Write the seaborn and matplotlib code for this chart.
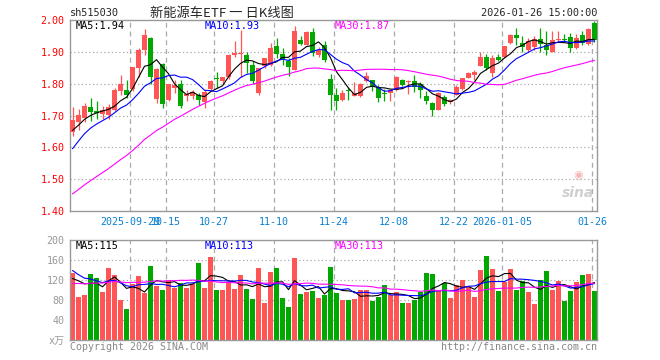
import numpy as np
import pandas as pd
import matplotlib
matplotlib.use("Agg")
import matplotlib.pyplot as plt
import seaborn as sns

# daily K line of sh515030, 2025-09-15 .. 2026-01-26 (88 sessions)
open_ = [1.649, 1.681, 1.693, 1.727, 1.715, 1.704, 1.702, 1.717, 1.777, 1.779,
         1.784, 1.849, 1.907, 1.945, 1.752, 1.862, 1.749, 1.787, 1.800, 1.762,
         1.760, 1.765, 1.742, 1.784, 1.818, 1.807, 1.820, 1.891, 1.893, 1.889,
         1.859, 1.770, 1.854, 1.860, 1.917, 1.893, 1.870, 1.844, 1.938, 1.923,
         1.963, 1.890, 1.920, 1.815, 1.765, 1.749, 1.779, 1.762, 1.760, 1.807,
         1.812, 1.788, 1.771, 1.770, 1.780, 1.812, 1.805, 1.807, 1.798, 1.762,
         1.738, 1.717, 1.759, 1.742, 1.765, 1.783, 1.819, 1.826, 1.854, 1.885,
         1.833, 1.885, 1.885, 1.928, 1.952, 1.927, 1.907, 1.915, 1.940, 1.923,
         1.900, 1.938, 1.940, 1.948, 1.912, 1.952, 1.925, 1.990]
high = [1.728, 1.720, 1.738, 1.754, 1.745, 1.730, 1.736, 1.785, 1.826, 1.810,
        1.851, 1.912, 1.972, 1.948, 1.850, 1.865, 1.800, 1.810, 1.812, 1.780,
        1.780, 1.772, 1.780, 1.810, 1.836, 1.822, 1.892, 1.933, 1.970, 1.900,
        1.870, 1.850, 1.882, 1.928, 1.943, 1.912, 1.880, 1.980, 1.950, 1.965,
        1.975, 1.915, 1.935, 1.830, 1.787, 1.780, 1.790, 1.806, 1.802, 1.838,
        1.812, 1.796, 1.784, 1.782, 1.824, 1.814, 1.810, 1.828, 1.805, 1.777,
        1.742, 1.775, 1.765, 1.752, 1.797, 1.819, 1.838, 1.842, 1.899, 1.892,
        1.890, 1.892, 1.917, 1.955, 1.975, 1.950, 1.944, 1.950, 1.975, 1.965,
        1.965, 1.965, 1.955, 1.960, 1.955, 1.965, 1.975, 1.997]
low = [1.635, 1.655, 1.680, 1.683, 1.688, 1.690, 1.690, 1.713, 1.765, 1.754,
       1.777, 1.820, 1.890, 1.800, 1.740, 1.725, 1.745, 1.770, 1.725, 1.745,
       1.752, 1.733, 1.723, 1.780, 1.786, 1.800, 1.815, 1.885, 1.822, 1.833,
       1.800, 1.765, 1.850, 1.855, 1.880, 1.860, 1.823, 1.844, 1.920, 1.920,
       1.886, 1.885, 1.868, 1.717, 1.717, 1.744, 1.749, 1.760, 1.757, 1.805,
       1.776, 1.742, 1.744, 1.744, 1.776, 1.794, 1.767, 1.775, 1.754, 1.735,
       1.700, 1.717, 1.730, 1.735, 1.765, 1.780, 1.817, 1.812, 1.854, 1.844,
       1.822, 1.870, 1.880, 1.925, 1.923, 1.900, 1.900, 1.905, 1.900, 1.890,
       1.898, 1.930, 1.932, 1.900, 1.908, 1.922, 1.920, 1.932]
close = [1.686, 1.702, 1.731, 1.712, 1.709, 1.717, 1.727, 1.780, 1.798, 1.765,
         1.851, 1.905, 1.954, 1.822, 1.845, 1.735, 1.800, 1.796, 1.731, 1.766,
         1.775, 1.749, 1.775, 1.807, 1.815, 1.820, 1.891, 1.896, 1.896, 1.866,
         1.809, 1.849, 1.880, 1.912, 1.893, 1.878, 1.851, 1.965, 1.925, 1.963,
         1.896, 1.907, 1.875, 1.765, 1.744, 1.770, 1.777, 1.772, 1.800, 1.823,
         1.788, 1.754, 1.769, 1.780, 1.822, 1.796, 1.807, 1.791, 1.780, 1.746,
         1.717, 1.770, 1.735, 1.749, 1.788, 1.819, 1.833, 1.836, 1.885, 1.849,
         1.880, 1.873, 1.917, 1.952, 1.944, 1.916, 1.935, 1.940, 1.925, 1.905,
         1.938, 1.940, 1.936, 1.912, 1.944, 1.928, 1.973, 1.938]
# volume, 万
volume = [135, 87, 90, 133, 125, 97, 145, 131, 80, 63,
          113, 129, 95, 149, 109, 100, 121, 105, 115, 105,
          113, 154, 105, 167, 100, 100, 117, 102, 131, 102,
          82, 144, 74, 136, 144, 84, 66, 164, 92, 96,
          98, 84, 90, 146, 95, 80, 80, 82, 100, 100,
          78, 86, 110, 90, 96, 74, 74, 80, 96, 134,
          132, 98, 115, 84, 110, 120, 106, 86, 140, 168,
          142, 98, 116, 142, 100, 118, 96, 72, 120, 138,
          100, 118, 78, 98, 116, 130, 133, 98]

# sessions before the window, they only feed the moving averages
pre_close = [1.28, 1.30, 1.31, 1.33, 1.34, 1.35, 1.36, 1.37, 1.38, 1.39,
             1.40, 1.40, 1.41, 1.42, 1.42, 1.43, 1.43, 1.44, 1.44, 1.45,
             1.46, 1.50, 1.54, 1.58, 1.61, 1.62, 1.64, 1.65, 1.67]
pre_volume = [85, 110, 95, 120, 90, 105, 80, 115, 100, 95,
              125, 90, 100, 85, 110, 95, 105, 90, 110, 95,
              170, 160, 150, 160, 135, 110, 120, 130, 120]

tick_idx = [10, 16, 24, 34, 44, 54, 64, 72, 87]
tick_labels = ['2025-09-29', '10-15', '10-27', '11-10', '11-24',
               '12-08', '12-22', '2026-01-05', '01-26']
price_ticks = [1.40, 1.50, 1.60, 1.70, 1.80, 1.90, 2.00]
vol_ticks = [40, 80, 120, 160, 200]

RED = '#ff5555'
GREEN = '#00a800'
GRID = '#aaaaaa'
FRAME = '#999999'
MONO = ['DejaVu Sans Mono', 'Noto Sans CJK SC']

n = len(close)
x = np.arange(n)
df = pd.DataFrame({'i': x, 'open': open_, 'high': high, 'low': low,
                   'close': close, 'vol': volume})
df['dir'] = np.where(df['close'] >= df['open'], 'up', 'down')
cols = np.where(df['dir'] == 'up', RED, GREEN)

k = len(pre_close)
c_all = pd.Series(pre_close + close)
v_all = pd.Series(pre_volume + volume)
for m in (5, 10, 30):
    df[f'ma{m}'] = c_all.rolling(m).mean().iloc[k:].values
    df[f'vma{m}'] = v_all.rolling(m).mean().iloc[k:].values

sns.set_style('white')
plt.rcParams['font.family'] = MONO

fig = plt.figure(figsize=(6.6, 3.6), dpi=100)
ax = fig.add_axes([70 / 660, 1 - 211 / 360, 527 / 660, 191 / 360])
axv = fig.add_axes([70 / 660, 1 - 340 / 360, 527 / 660, 100 / 360])

xmin, xmax = -0.417, n - 0.583
grid_x = [t - 0.42 for t in tick_idx]

# price panel
for yv in price_ticks[1:-1]:
    ax.axhline(yv, color=GRID, lw=0.9, ls=(0, (1, 2)), zorder=0)
for gx in grid_x:
    ax.axvline(gx, color=GRID, lw=0.9, ls=(0, (4, 3)), zorder=0)

ax.vlines(df['i'], df['low'], df['high'], colors=cols, lw=0.9, zorder=2)
body = np.maximum((df['close'] - df['open']).abs(), 0.0025)
ax.bar(df['i'], body, bottom=np.minimum(df['open'], df['close']),
       width=0.83, color=cols, linewidth=0, zorder=3)

sns.lineplot(data=df, x='i', y='ma5', color='black', lw=0.8, ax=ax, zorder=4)
sns.lineplot(data=df, x='i', y='ma10', color='#0000ff', lw=0.8, ax=ax, zorder=4)
sns.lineplot(data=df, x='i', y='ma30', color='#ff00ff', lw=0.8, ax=ax, zorder=4)

ax.set_xlim(xmin, xmax)
ax.set_ylim(1.40, 2.00)
ax.set_yticks(price_ticks)
ax.set_yticklabels([f'{p:.2f}' for p in price_ticks], color='#ff0000', fontsize=7.2)
ax.set_xticks(grid_x)
ax.set_xticklabels(tick_labels, color='#0a7fd0', fontsize=7.2)
ax.tick_params(length=0, pad=4)
ax.set_xlabel('')
ax.set_ylabel('')

ax.text(0.01, 0.968, f"MA5:{df['ma5'].iloc[-1]:.2f}", transform=ax.transAxes,
        color='black', fontsize=7.4, va='center')
ax.text(0.256, 0.968, f"MA10:{df['ma10'].iloc[-1]:.2f}", transform=ax.transAxes,
        color='#0000ff', fontsize=7.4, va='center')
ax.text(0.503, 0.968, f"MA30:{df['ma30'].iloc[-1]:.2f}", transform=ax.transAxes,
        color='#ff00ff', fontsize=7.4, va='center')
ax.text(0.995, 0.06, 'sina', transform=ax.transAxes, ha='right', va='bottom',
        family='DejaVu Sans', style='italic', weight='bold', fontsize=10,
        color='#cfcfcf')
ax.text(0.965, 0.16, '◉', transform=ax.transAxes, ha='center', va='bottom',
        family='DejaVu Sans', fontsize=8, color='#f4b8b8')

# volume panel
for yv in vol_ticks[:-1]:
    axv.axhline(yv, color=GRID, lw=0.9, ls=(0, (1, 2)), zorder=0)
for gx in grid_x:
    axv.axvline(gx, color=GRID, lw=0.9, ls=(0, (4, 3)), zorder=0)

sns.barplot(data=df, x='i', y='vol', hue='dir', palette={'up': RED, 'down': GREEN},
            native_scale=True, dodge=False, width=0.83, saturation=1,
            errorbar=None, legend=False, linewidth=0, ax=axv, zorder=2)
sns.lineplot(data=df, x='i', y='vma5', color='black', lw=0.8, ax=axv, zorder=4)
sns.lineplot(data=df, x='i', y='vma10', color='#0000ff', lw=0.8, ax=axv, zorder=4)
sns.lineplot(data=df, x='i', y='vma30', color='#ff00ff', lw=0.8, ax=axv, zorder=4)

axv.set_xlim(xmin, xmax)
axv.set_ylim(0, 200)
axv.set_yticks([0] + vol_ticks)
axv.set_yticklabels(['x万'] + [str(v) for v in vol_ticks], color='#999999', fontsize=7.2)
axv.set_xticks([])
axv.tick_params(length=0, pad=4)
axv.set_xlabel('')
axv.set_ylabel('')

axv.text(0.01, 0.94, f"MA5:{df['vma5'].iloc[-1]:.0f}", transform=axv.transAxes,
         color='black', fontsize=7.4, va='center')
axv.text(0.256, 0.94, f"MA10:{df['vma10'].iloc[-1]:.0f}", transform=axv.transAxes,
         color='#0000ff', fontsize=7.4, va='center')
axv.text(0.503, 0.94, f"MA30:{df['vma30'].iloc[-1]:.0f}", transform=axv.transAxes,
         color='#ff00ff', fontsize=7.4, va='center')

for a in (ax, axv):
    for s in a.spines.values():
        s.set_color(FRAME)
        s.set_linewidth(1)

# header and footer
fig.text(70 / 660, 1 - 13 / 360, 'sh515030', fontsize=7.4, va='center')
fig.text(222 / 660, 1 - 13 / 360, '新能源车ETF 一 日K线图', fontsize=9.5, va='center',
         ha='center', family=['Noto Sans CJK SC', 'DejaVu Sans'])
fig.text(597 / 660, 1 - 13 / 360, '2026-01-26 15:00:00', fontsize=7.4,
         va='center', ha='right')
fig.text(70 / 660, 1 - 347 / 360, 'Copyright 2026 SINA.COM', fontsize=7.2,
         va='center', color='#888888')
fig.text(597 / 660, 1 - 347 / 360, 'http://finance.sina.com.cn', fontsize=7.2,
         va='center', ha='right', color='#888888')

fig.savefig('out.png', dpi=100, facecolor='white')
